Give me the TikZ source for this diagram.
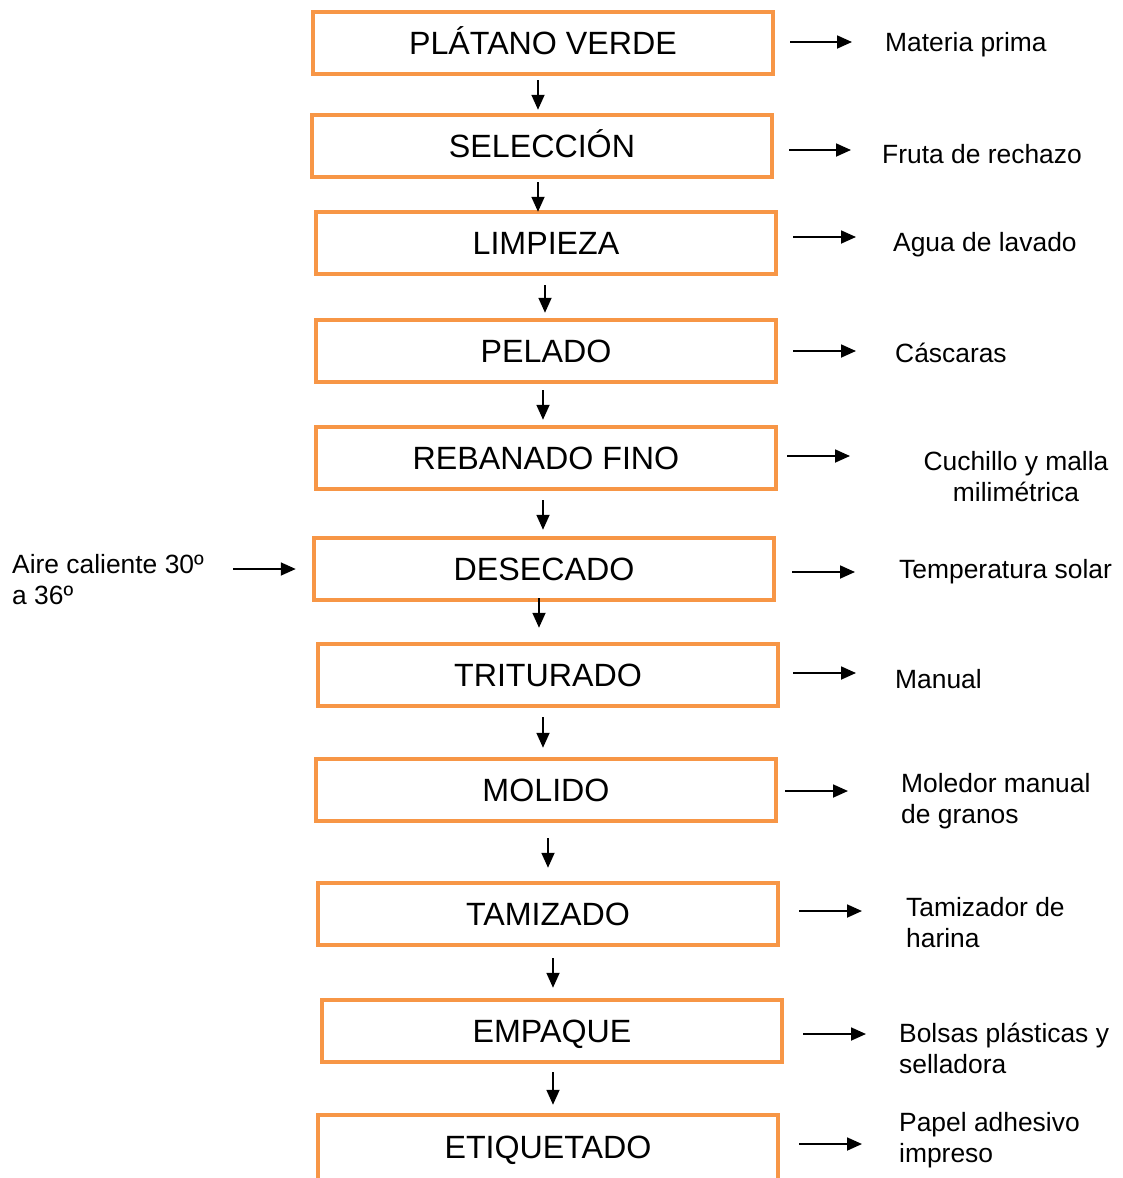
\documentclass[tikz,border=0pt]{standalone}
\usepackage{fontspec}
\setmainfont{Liberation Sans}
\usetikzlibrary{arrows.meta}
\definecolor{boxorange}{HTML}{F79646}
\begin{document}
\begin{tikzpicture}[x=1pt,y=-1pt,
  stepbox/.style={draw=boxorange,line width=4.5pt,minimum width=460pt,minimum height=62pt,inner sep=0pt,text height=23pt,text depth=0pt,font=\fontsize{32.2}{37}\selectfont},
  side/.style={anchor=west,inner sep=0pt,align=left,font=\fontsize{26.4}{31}\selectfont},
  arr/.style={line width=1.8pt,-{Triangle[length=15pt,width=13pt]}}]
\useasboundingbox (0,0) rectangle (1123,1178);
\node[stepbox] (p1) at (543,43) {PLÁTANO VERDE};
\node[stepbox] (p2) at (542,146) {SELECCIÓN};
\node[stepbox] (p3) at (546,243) {LIMPIEZA};
\node[stepbox] (p4) at (546,351) {PELADO};
\node[stepbox] (p5) at (546,458) {REBANADO FINO};
\node[stepbox] (p6) at (544,569) {DESECADO};
\node[stepbox] (p7) at (548,675) {TRITURADO};
\node[stepbox] (p8) at (546,790) {MOLIDO};
\node[stepbox] (p9) at (548,914) {TAMIZADO};
\node[stepbox] (p10) at (552,1031) {EMPAQUE};
\node[stepbox,minimum height=68pt] (p11) at (548,1149) {\raisebox{2pt}{ETIQUETADO}};
% down arrows: from/to/x/start gap/end gap
\foreach \a/\b/\xx/\s/\e in {p1/p2/538/4/3, p2/p3/538/3/-2, p3/p4/545/9/5, p4/p5/543/6/5, p5/p6/543/9/6, p6/p7/539/-4/14, p7/p8/543/9/9, p8/p9/548/15/13, p9/p10/553/11/10, p10/p11/553/8/8}{
  \coordinate (cx) at (\xx,0);
  \draw[arr] ([yshift=-\s pt]\a.south -| cx) -- ([yshift=\e pt]\b.north -| cx);
}
% side texts
\node[side] (t1) at (885,45) {Materia prima};
\node[side] (t2) at (882,154) {Fruta de rechazo};
\node[side] (t3) at (893,245) {Agua de lavado};
\node[side] (t4) at (895,353) {Cáscaras};
\node[side,anchor=center,align=center] (t5) at (1016,477) {Cuchillo y malla\\milimétrica};
\node[side] (t6) at (899,572) {Temperatura solar};
\node[side] (t7) at (895,679) {Manual};
\node[side] (t8) at (901,801) {Moledor manual\\de granos};
\node[side] (t9) at (906,923) {Tamizador de\\harina};
\node[side] (t10) at (899,1048) {Bolsas plásticas y\\selladora};
\node[side] (t11) at (899,1140) {Papel adhesivo\\impreso};
\node[side] (t0) at (12,580) {Aire caliente 30º\\a 36º};
% right arrows: node/gap from box/end x/y
\foreach \n/\g/\xe/\yy in {1/15/852/42, 2/15/851/150, 3/15/856/237, 4/15/856/351, 5/9/850/456, 6/16/855/572, 7/13/856/673, 8/7/848/791, 9/19/862/911, 10/19/866/1034, 11/19/862/1144}{
  \coordinate (a\n) at (\xe,\yy);
  \draw[arr] ([xshift=\g pt]p\n.east |- a\n) -- (a\n);
}
\coordinate (a0) at (233,569);
\draw[arr,shorten >=16pt] (a0) -- (p6.west |- a0);
\end{tikzpicture}
\end{document}
